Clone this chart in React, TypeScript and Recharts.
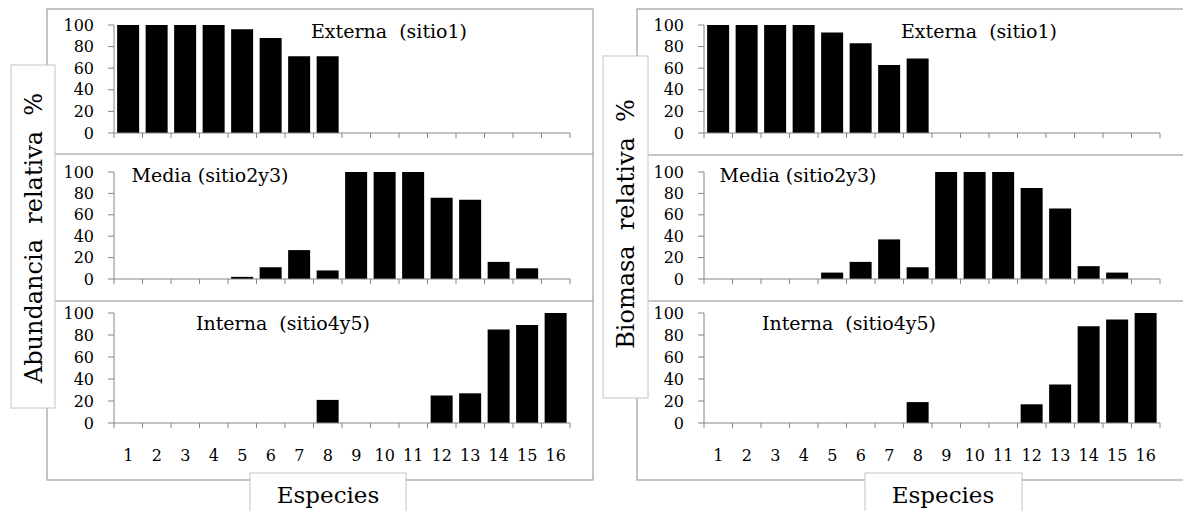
import React from 'react';
import { BarChart, Bar, XAxis, YAxis } from 'recharts';

const species = ['1', '2', '3', '4', '5', '6', '7', '8', '9', '10', '11', '12', '13', '14', '15', '16'];
const yTicks = [0, 20, 40, 60, 80, 100];

// Abundancia relativa %
const abundExterna = [100, 100, 100, 100, 96, 88, 71, 71, 0, 0, 0, 0, 0, 0, 0, 0];
const abundMedia = [0, 0, 0, 0, 2, 11, 27, 8, 100, 100, 100, 76, 74, 16, 10, 0];
const abundInterna = [0, 0, 0, 0, 0, 0, 0, 21, 0, 0, 0, 25, 27, 85, 89, 100];

// Biomasa relativa %
const bioExterna = [100, 100, 100, 100, 93, 83, 63, 69, 0, 0, 0, 0, 0, 0, 0, 0];
const bioMedia = [0, 0, 0, 0, 6, 16, 37, 11, 100, 100, 100, 85, 66, 12, 6, 0];
const bioInterna = [0, 0, 0, 0, 0, 0, 0, 19, 0, 0, 0, 17, 35, 88, 94, 100];

const FONT = '"DejaVu Serif", "Liberation Serif", serif';
const AXIS = '#868686';
const FRAME = '#8c8c8c';
const BOX = '#c4c4c4';
const PLOT_W = 456;
const BAND = PLOT_W / species.length;

const toRows = (vals: number[]) => species.map((s, i) => ({ sp: s, v: vals[i] }));

function BoundaryTick(props: any) {
  const { x, y, payload, showLabel } = props;
  const last = payload.value === species[species.length - 1];
  return (
    <g>
      <line x1={x - BAND / 2} x2={x - BAND / 2} y1={y} y2={y + 5} stroke={AXIS} />
      {last && <line x1={x + BAND / 2} x2={x + BAND / 2} y1={y} y2={y + 5} stroke={AXIS} />}
      {showLabel && (
        <text x={x} y={y + 38} textAnchor="middle" fontFamily={FONT} fontSize={16} fill="#000">
          {payload.value}
        </text>
      )}
    </g>
  );
}

interface PanelProps {
  vals: number[];
  left: number;
  top: number;
  plotH: number;
  showLabels?: boolean;
}

function Panel({ vals, left, top, plotH, showLabels }: PanelProps) {
  const axisH = showLabels ? 45 : 10;
  return (
    <div style={{ position: 'absolute', left, top }}>
      <BarChart
        width={54 + PLOT_W + 10}
        height={10 + plotH + axisH}
        data={toRows(vals)}
        margin={{ top: 10, right: 10, bottom: 0, left: 0 }}
        barCategoryGap="11%"
      >
        <XAxis
          dataKey="sp"
          interval={0}
          height={axisH}
          tickSize={0}
          tickMargin={0}
          axisLine={{ stroke: AXIS }}
          tick={<BoundaryTick showLabel={showLabels} />}
        />
        <YAxis
          width={54}
          domain={[0, 100]}
          ticks={yTicks}
          interval={0}
          tickSize={6}
          tickMargin={14}
          axisLine={{ stroke: AXIS }}
          tickLine={{ stroke: AXIS }}
          tick={{ fill: '#000', fontFamily: FONT, fontSize: 16 }}
        />
        <Bar dataKey="v" fill="#000" isAnimationActive={false} />
      </BarChart>
    </div>
  );
}

function Figure({ dx, ext, med, int }: { dx: number; ext: number[]; med: number[]; int: number[] }) {
  return (
    <>
      <Panel vals={ext} left={60 + dx} top={15} plotH={108} />
      <Panel vals={med} left={60 + dx} top={162} plotH={107} />
      <Panel vals={int} left={60 + dx} top={303} plotH={110} showLabels />
    </>
  );
}

export default function App() {
  const title = { fontFamily: FONT, fontSize: 19, fill: '#000', whiteSpace: 'pre' as const };
  const big = { fontFamily: FONT, fontSize: 24, fill: '#000', whiteSpace: 'pre' as const };
  return (
    <div style={{ position: 'absolute', left: 0, top: 0, width: 1183, height: 511, background: '#fff', overflow: 'hidden' }}>
      <svg width={1183} height={511} style={{ position: 'absolute', left: 0, top: 0 }}>
        {/* figure frames and panel separators */}
        <rect x={47} y={9} width={546} height={471} fill="none" stroke={FRAME} />
        <line x1={55} x2={593} y1={154} y2={154} stroke={FRAME} />
        <line x1={55} x2={593} y1={301} y2={301} stroke={FRAME} />
        <rect x={637} y={9} width={560} height={471} fill="none" stroke={FRAME} />
        <line x1={648} x2={1183} y1={155} y2={155} stroke={FRAME} />
        <line x1={648} x2={1183} y1={301} y2={301} stroke={FRAME} />
      </svg>

      <Figure dx={0} ext={abundExterna} med={abundMedia} int={abundInterna} />
      <Figure dx={590} ext={bioExterna} med={bioMedia} int={bioInterna} />

      <svg width={1183} height={511} style={{ position: 'absolute', left: 0, top: 0 }}>
        <text x={389} y={38} textAnchor="middle" style={title}>Externa  (sitio1)</text>
        <text x={210} y={182} textAnchor="middle" style={title}>Media (sitio2y3)</text>
        <text x={283} y={330} textAnchor="middle" style={title}>Interna  (sitio4y5)</text>
        <text x={979} y={38} textAnchor="middle" style={title}>Externa  (sitio1)</text>
        <text x={798} y={182} textAnchor="middle" style={title}>Media (sitio2y3)</text>
        <text x={849} y={330} textAnchor="middle" style={title}>Interna  (sitio4y5)</text>

        <rect x={11} y={65} width={44} height={343} fill="#fff" stroke={BOX} />
        <text transform="translate(42,238) rotate(-90)" textAnchor="middle" style={big}>Abundancia  relativa  %</text>
        <rect x={603} y={56} width={45} height={342} fill="#fff" stroke={BOX} />
        <text transform="translate(634,224) rotate(-90)" textAnchor="middle" style={big}>Biomasa  relativa  %</text>

        <rect x={250} y={473} width={156} height={50} fill="#fff" stroke={BOX} />
        <text x={328} y={503} textAnchor="middle" style={{ ...big, fontSize: 23 }}>Especies</text>
        <rect x={865} y={473} width={157} height={50} fill="#fff" stroke={BOX} />
        <text x={943} y={503} textAnchor="middle" style={{ ...big, fontSize: 23 }}>Especies</text>
      </svg>
    </div>
  );
}
